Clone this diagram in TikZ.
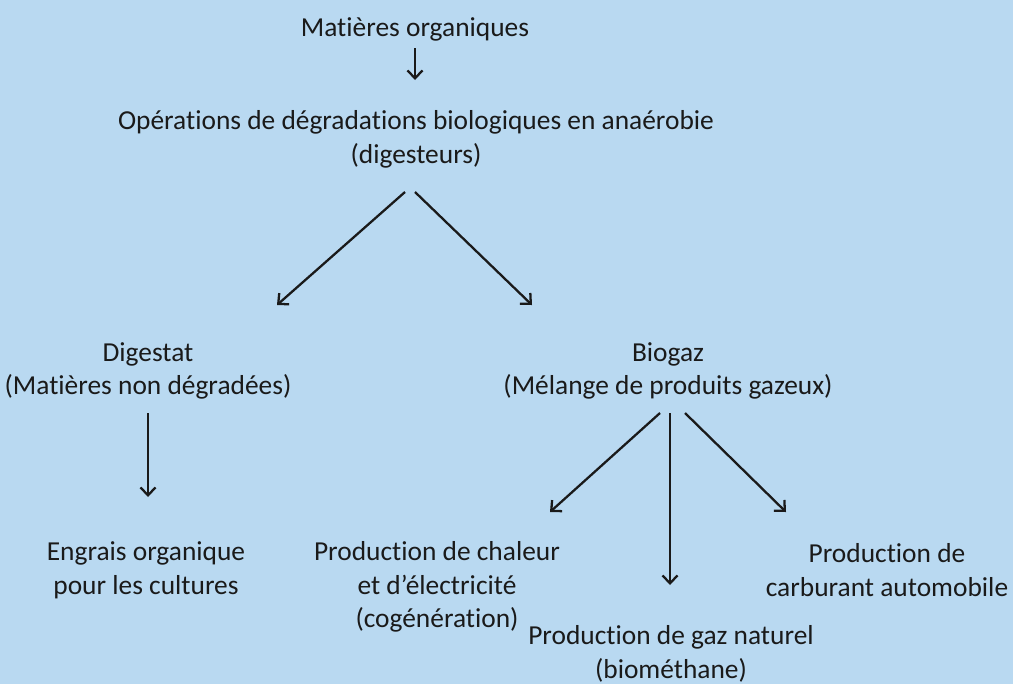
\documentclass[tikz,border=0pt]{standalone}
\usepackage{fontspec}
\setmainfont{Carlito}[Ligatures=NoCommon]
\usetikzlibrary{calc,arrows.meta}
\definecolor{skyblue}{HTML}{B9D9F1}
\definecolor{ink}{HTML}{1A1A1A}

\begin{document}
\begin{tikzpicture}[x=0.02cm,y=-0.02cm,font=\fontsize{15.6}{19.2}\selectfont,
  every node/.style={align=center,inner sep=0pt,text=ink},
  arr/.style={ink,line width=1.3pt,-{Straight Barb[length=4.5pt,width=8.5pt]}}]
  \fill[skyblue] (0,0) rectangle (1013,684);
  % top of the chain
  \node (orga) at (415,29) {Matières organiques};
  \node (oper) at (416,139) {Opérations de dégradations biologiques en anaérobie\\(digesteurs)};
  % the two products
  \node (dig) at (148,371) {Digestat\\(Matières non dégradées)};
  \node (bio) at (668,371) {Biogaz\\(Mélange de produits gazeux)};
  % uses
  \node (engr) at (146,570) {Engrais organique\\pour les cultures};
  \node (chal) at (437,587) {Production de chaleur\\et d’électricité\\(cogénération)};
  \node (gaz) at (671,654) {Production de gaz naturel\\(biométhane)};
  \node (carb) at (887,570) {Production de\\carburant automobile};
  \draw[arr] ($(orga)+(0,19)$) -- ($(oper)+(-1,-59)$);
  \draw[arr] ($(oper)+(-11,53)$) -- ($(dig)+(129,-66)$);
  \draw[arr] ($(oper)+(-1,53)$) -- ($(bio)+(-136,-66)$);
  \draw[arr] ($(dig)+(0,42)$) -- ($(engr)+(2,-73)$);
  \draw[arr] ($(bio)+(-8,42)$) -- ($(chal)+(113,-75)$);
  \draw[arr] ($(bio)+(2,42)$) -- ($(gaz)+(-1,-69)$);
  \draw[arr] ($(bio)+(17,42)$) -- ($(carb)+(-101,-58)$);
\end{tikzpicture}
\end{document}
